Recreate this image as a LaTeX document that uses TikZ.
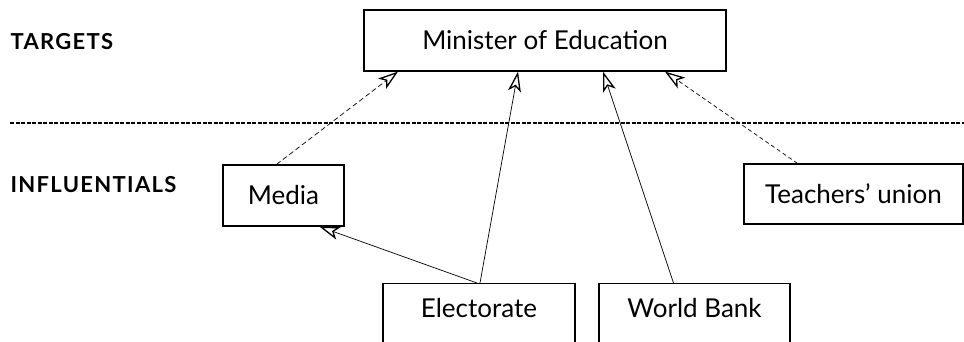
\documentclass[tikz,border=0pt]{standalone}
\usepackage{fontspec}
\setmainfont{Lato}
\usetikzlibrary{arrows.meta}

\begin{document}
\begin{tikzpicture}[x=1pt,y=-1pt,
  box/.style={draw,line width=1.2pt,inner sep=0pt,font=\fontsize{26}{30}\selectfont},
  tall/.style={box,anchor=north,inner ysep=7pt,text height=27pt,text depth=70pt},
  head/.style={anchor=west,font=\bfseries\fontsize{22}{24}\selectfont\addfontfeature{LetterSpace=6}},
  tip/.tip={Stealth[open,length=20pt,width=13pt,inset=5pt,line width=1.3pt]},
  link/.style={line width=0.7pt,-tip}]
  \useasboundingbox (0,0) rectangle (964,341);
  \clip (0,0) rectangle (964,341);
  % labels at the left
  \node[head] (targets) at (7,42) {TARGETS};
  \node[head] (infl) at (7,185) {INFLUENTIALS};
  \draw[line width=1.2pt,dash pattern=on 4pt off 1.5pt] (10,123) coordinate (sepL) -- (964,123) coordinate (sepR);
  % boxes
  \node[box,minimum width=362,minimum height=61] (minister) at (545,40.5) {Minister of Education};
  \node[box,minimum width=121,minimum height=61] (media) at (283.5,195.5) {Media};
  \node[box,minimum width=219,minimum height=60] (union) at (853.5,194) {Teachers' union};
  \node[tall,minimum width=192] (elect) at (479,283) {Electorate};
  \node[tall,minimum width=191] (bank) at (694.5,283) {World Bank};
  % influence
  \draw[link,dash pattern=on 5pt off 3pt] ([xshift=-7]media.north) -- ([xshift=-147]minister.south);
  \draw[link] ([xshift=1]elect.north) -- ([xshift=-27]minister.south);
  \draw[link] ([xshift=-21]bank.north) -- ([xshift=58]minister.south);
  \draw[link,dash pattern=on 4pt off 3pt] ([xshift=-56]union.north) -- ([xshift=120]minister.south);
  \draw[link] ([xshift=-2]elect.north) -- ([xshift=36]media.south);
\end{tikzpicture}
\end{document}
